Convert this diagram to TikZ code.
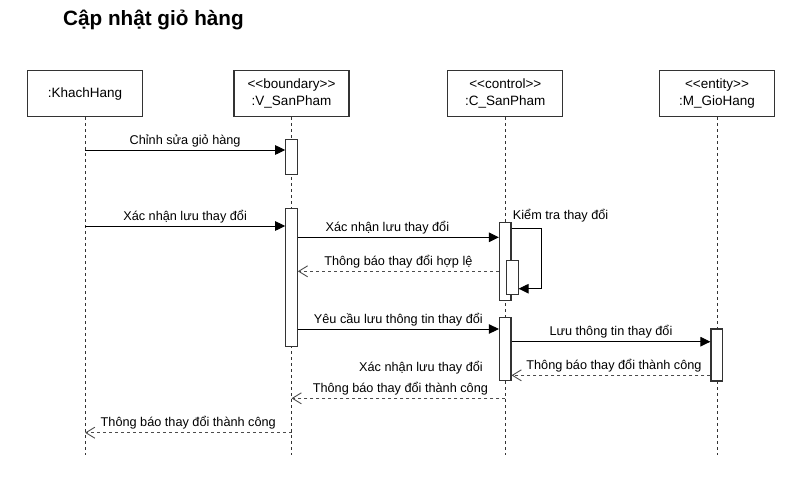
\documentclass[tikz,border=0pt]{standalone}
\usepackage{fontspec}
\setmainfont{Liberation Sans}
\usetikzlibrary{arrows.meta}

\begin{document}
\begin{tikzpicture}[x=1pt,y=-1pt,
    head/.style={rectangle,draw=black!80,line width=1.2pt,minimum width=115pt,minimum height=46pt,
                 align=center,inner sep=1pt,font=\fontsize{13.5}{17}\selectfont},
    act/.style={rectangle,draw=black!80,line width=1.1pt,fill=white,minimum width=11.5pt,inner sep=0pt},
    life/.style={draw=black!80,line width=0.9pt,dash pattern=on 3pt off 3pt},
    msg/.style={-{Triangle[length=10pt,width=9.5pt]},line width=0.9pt},
    ret/.style={-{Straight Barb[length=9pt,width=11pt]},draw=black!70,line width=0.9pt,dash pattern=on 3pt off 3pt},
    txt/.style={draw=none,inner sep=0pt,font=\fontsize{12.7}{15}\selectfont},
    lbl/.style={txt,anchor=base,yshift=6pt}]
  \useasboundingbox (0,0) rectangle (786,482);

  \node[inner sep=0pt,anchor=base west,font=\bfseries\fontsize{20.7}{24}\selectfont] (title) at (63,25) {Cập nhật giỏ hàng};

%% lifelines
  \coordinate (bottom) at (0,455);
  \foreach \name/\x/\txt in {KhachHang/85/{:KhachHang},
                            V-SanPham/291.5/{<\kern0pt<boundary>\kern0pt>\\:V\_SanPham},
                            C-SanPham/505.3/{<\kern0pt<control>\kern0pt>\\:C\_SanPham},
                            M-GioHang/717/{<\kern0pt<entity>\kern0pt>\\:M\_GioHang}} {
    \node[head] (\name) at (\x,93.7) {\txt};
    \draw[life] (\name) -- (\name |- bottom);
  }

%% activations
  \node[act,minimum height=34.7pt] (V-act1) at (291.5,156.7) {};
  \node[act,minimum height=137.7pt] (V-act2) at (291.5,277.2) {};
  \node[act,minimum height=77.3pt] (C-act1) at (505.2,261.4) {};
  \node[act,minimum height=34pt] (C-nest) at (512.3,277.7) {};
  \node[act,minimum height=63.4pt] (C-act2) at (505.2,349) {};
  \node[act,minimum height=52pt] (M-act) at (716.7,355) {};

%% message rows
  \foreach \r/\y in {r1/150, r2/226, s1/228.7, r3/237.3, r4/271.3, s2/288.7,
                     r5/329, r6/341.7, r7/375.3, r8/398.3, r9/432.7}
    \coordinate (\r) at (0,\y);

  \draw[msg] (KhachHang |- r1) -- (V-act1.west |- r1) node[lbl,midway] {Chỉnh sửa giỏ hàng};
  \draw[msg] (KhachHang |- r2) -- (V-act2.west |- r2) node[lbl,midway] {Xác nhận lưu thay đổi};
  \draw[msg] (V-act2.east |- r3) -- (C-act1.west |- r3) node[lbl,midway,xshift=-11pt] {Xác nhận lưu thay đổi};
  \draw[msg] (C-act1.east |- s1) node[txt,anchor=base west,xshift=1pt,yshift=9.7pt] {Kiểm tra thay đổi}
    -- ++(30,0) |- (C-nest.east |- s2);
  \draw[ret] (C-act1.west |- r4) -- (V-act2.east |- r4) node[lbl,midway] {Thông báo thay đổi hợp lệ};
  \draw[msg] (V-act2.east |- r5) -- (C-act2.west |- r5) node[lbl,midway] {Yêu cầu lưu thông tin thay đổi};
  \draw[msg] (C-act2.east |- r6) -- (M-act.west |- r6) node[lbl,midway] {Lưu thông tin thay đổi};
  \draw[ret] (M-act.west |- r7) -- (C-act2.east |- r7) node[lbl,midway,xshift=3pt] {Thông báo thay đổi thành công};
  \node[txt,anchor=base east] (xacnhan) at (483,371.7) {Xác nhận lưu thay đổi};
  \draw[ret] (C-SanPham |- r8) -- (V-SanPham |- r8) node[lbl,midway,xshift=2pt] {Thông báo thay đổi thành công};
  \draw[ret] (V-SanPham |- r9) -- (KhachHang |- r9) node[lbl,midway] {Thông báo thay đổi thành công};
\end{tikzpicture}
\end{document}
